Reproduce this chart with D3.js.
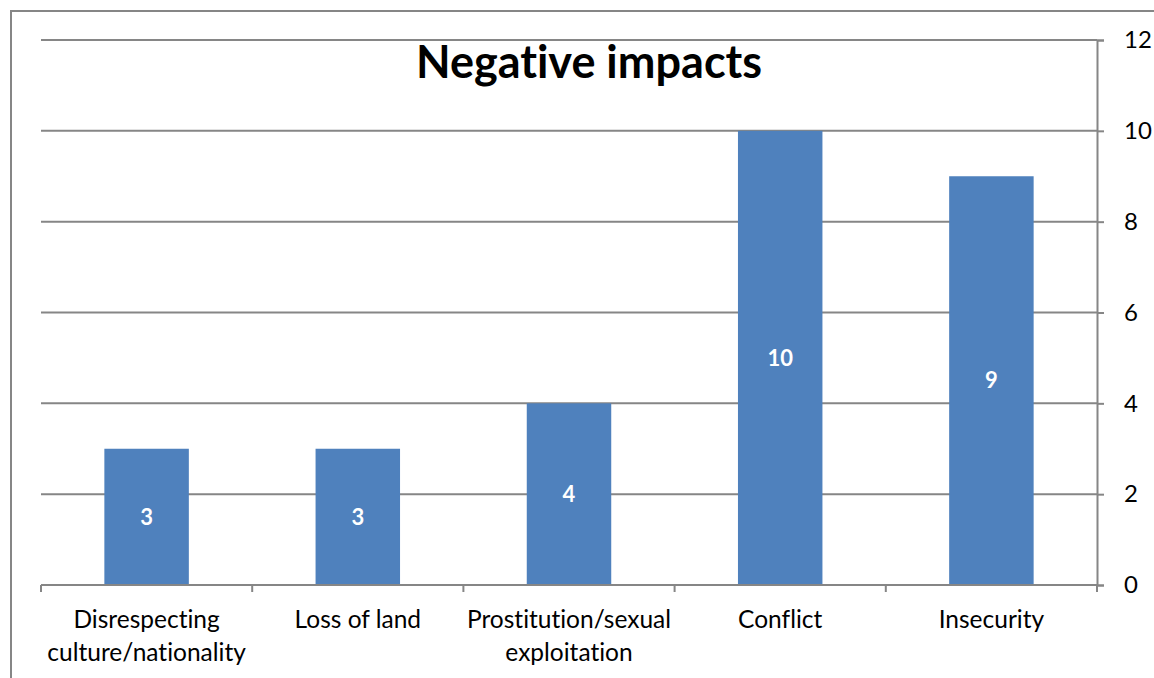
<!DOCTYPE html>
<meta charset="utf-8">
<style>
body { margin: 0; background: #fff; }
text { font-family: Lato, "Open Sans", sans-serif; font-variant-ligatures: none; }
</style>
<body>
<script src="https://d3js.org/d3.v7.min.js"></script>
<script>

// data
var categories = ["Disrespecting culture/nationality", "Loss of land", "Prostitution/sexual exploitation", "Conflict", "Insecurity"];
var labelLines = [["Disrespecting", "culture/nationality"], ["Loss of land"], ["Prostitution/sexual", "exploitation"], ["Conflict"], ["Insecurity"]];
var values = [3, 3, 4, 10, 9];
var yTicks = [0, 2, 4, 6, 8, 10, 12];

var W = 1154, H = 678;
var margin = {top: 40, right: 57, bottom: 93, left: 41},
    width = W - margin.left - margin.right,
    height = H - margin.top - margin.bottom;

var svg = d3.select("body").append("svg")
    .attr("width", W)
    .attr("height", H);

// chart border
svg.append("rect")
    .attr("x", 11).attr("y", 11)
    .attr("width", W + 20).attr("height", H + 20)
    .attr("fill", "none")
    .attr("stroke", "#868686")
    .attr("stroke-width", 2);

var g = svg.append("g")
    .attr("transform", "translate(" + margin.left + "," + margin.top + ")");

var x = d3.scaleBand().domain(categories).range([0, width]).paddingInner(0.6).paddingOuter(0.3);
var y = d3.scaleLinear().domain([0, 12]).range([height, 0]);

// gridlines
g.selectAll(".grid")
    .data(yTicks.slice(1))
  .enter().append("line")
    .attr("x1", 0).attr("x2", width)
    .attr("y1", function(d) { return y(d); })
    .attr("y2", function(d) { return y(d); })
    .attr("stroke", "#868686")
    .attr("stroke-width", 2);

// bars
g.selectAll(".bar")
    .data(values)
  .enter().append("rect")
    .attr("x", function(d, i) { return x(categories[i]); })
    .attr("width", x.bandwidth())
    .attr("y", function(d) { return y(d); })
    .attr("height", function(d) { return height - y(d); })
    .attr("fill", "#4F81BD");

// value labels
g.selectAll(".val")
    .data(values)
  .enter().append("text")
    .attr("x", function(d, i) { return x(categories[i]) + x.bandwidth() / 2; })
    .attr("y", function(d) { return (y(d) + height) / 2; })
    .attr("dy", "0.35em")
    .attr("text-anchor", "middle")
    .attr("fill", "#fff")
    .attr("font-weight", "bold")
    .attr("font-size", "22px")
    .text(function(d) { return d; });

// right axis
var yAxis = g.append("g")
    .attr("transform", "translate(" + width + ",0)")
    .call(d3.axisRight(y).tickValues(yTicks).tickSize(7).tickPadding(20));
yAxis.select(".domain").attr("stroke", "#868686").attr("stroke-width", 2);
yAxis.selectAll(".tick line").attr("stroke", "#868686").attr("stroke-width", 2);
yAxis.selectAll(".tick text").attr("font-size", "24px").attr("fill", "#000")
    .style("font-family", "Lato, 'Open Sans', sans-serif");

// bottom axis line and ticks at category boundaries
var step = width / categories.length;
g.append("line")
    .attr("x1", 0).attr("x2", width)
    .attr("y1", height).attr("y2", height)
    .attr("stroke", "#868686").attr("stroke-width", 2);
g.selectAll(".xtick")
    .data(d3.range(categories.length + 1))
  .enter().append("line")
    .attr("x1", function(d) { return d * step; })
    .attr("x2", function(d) { return d * step; })
    .attr("y1", height).attr("y2", height + 7)
    .attr("stroke", "#868686").attr("stroke-width", 2);

// category labels
var lab = g.selectAll(".xlab")
    .data(labelLines)
  .enter().append("text")
    .attr("text-anchor", "middle")
    .attr("font-size", "24.5px")
    .attr("fill", "#000")
    .attr("transform", function(d, i) {
      return "translate(" + (x(categories[i]) + x.bandwidth() / 2) + "," + (height + 43) + ")";
    });
lab.selectAll("tspan")
    .data(function(d) { return d; })
  .enter().append("tspan")
    .attr("x", 0)
    .attr("y", function(d, i) { return i * 33; })
    .text(function(d) { return d; });

// title
svg.append("text")
    .attr("x", 589)
    .attr("y", 78)
    .attr("text-anchor", "middle")
    .attr("font-size", "45px")
    .attr("font-weight", "bold")
    .attr("fill", "#000")
    .text("Negative impacts");

</script>
</body>
